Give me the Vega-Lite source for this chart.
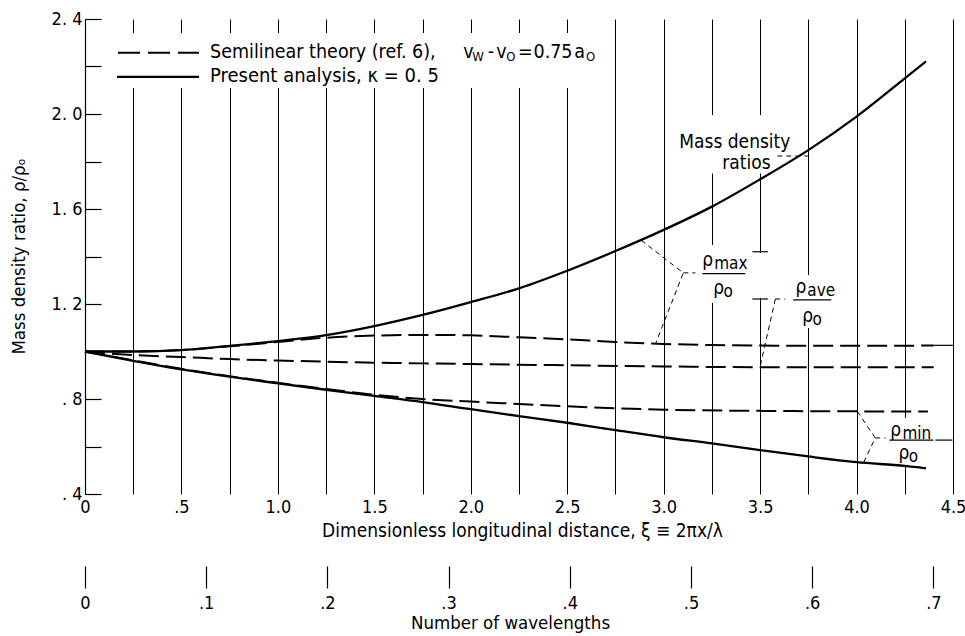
{
  "$schema": "https://vega.github.io/schema/vega-lite/v6.json",
  "width": 868,
  "height": 475,
  "autosize": "none",
  "padding": {"left": 85, "top": 19, "right": 12, "bottom": 142},
  "background": "white",
  "config": {
    "view": {"stroke": null},
    "font": "DejaVu Sans Condensed, DejaVu Sans",
    "axis": {"labelFont": "DejaVu Sans Condensed, DejaVu Sans", "titleFont": "DejaVu Sans Condensed, DejaVu Sans", "labelColor": "black", "titleColor": "black", "titleFontWeight": "normal", "labelFlush": false, "labelOverlap": false}
  },
  "datasets": {
    "solid": [
      {"curve": "max", "xi": 0, "r": 1.0}, {"curve": "max", "xi": 0.25, "r": 1.0}, {"curve": "max", "xi": 0.5, "r": 1.006}, {"curve": "max", "xi": 0.75, "r": 1.024}, {"curve": "max", "xi": 1.0, "r": 1.044}, {"curve": "max", "xi": 1.25, "r": 1.069}, {"curve": "max", "xi": 1.5, "r": 1.107}, {"curve": "max", "xi": 1.75, "r": 1.154}, {"curve": "max", "xi": 2.0, "r": 1.208}, {"curve": "max", "xi": 2.25, "r": 1.266}, {"curve": "max", "xi": 2.5, "r": 1.34}, {"curve": "max", "xi": 2.75, "r": 1.423}, {"curve": "max", "xi": 3.0, "r": 1.512}, {"curve": "max", "xi": 3.25, "r": 1.61}, {"curve": "max", "xi": 3.5, "r": 1.725}, {"curve": "max", "xi": 3.75, "r": 1.848}, {"curve": "max", "xi": 4.0, "r": 1.989}, {"curve": "max", "xi": 4.25, "r": 2.15}, {"curve": "max", "xi": 4.36, "r": 2.222},
      {"curve": "min", "xi": 0, "r": 1.0}, {"curve": "min", "xi": 0.25, "r": 0.961}, {"curve": "min", "xi": 0.5, "r": 0.925}, {"curve": "min", "xi": 0.75, "r": 0.894}, {"curve": "min", "xi": 1.0, "r": 0.866}, {"curve": "min", "xi": 1.25, "r": 0.839}, {"curve": "min", "xi": 1.5, "r": 0.813}, {"curve": "min", "xi": 1.75, "r": 0.787}, {"curve": "min", "xi": 2.0, "r": 0.757}, {"curve": "min", "xi": 2.25, "r": 0.728}, {"curve": "min", "xi": 2.5, "r": 0.7}, {"curve": "min", "xi": 2.75, "r": 0.669}, {"curve": "min", "xi": 3.0, "r": 0.639}, {"curve": "min", "xi": 3.25, "r": 0.613}, {"curve": "min", "xi": 3.5, "r": 0.585}, {"curve": "min", "xi": 3.75, "r": 0.558}, {"curve": "min", "xi": 4.0, "r": 0.534}, {"curve": "min", "xi": 4.25, "r": 0.518}, {"curve": "min", "xi": 4.36, "r": 0.508}
    ],
    "dashed": [
      {"curve": "max", "xi": 0, "r": 1.0}, {"curve": "max", "xi": 0.25, "r": 1.0}, {"curve": "max", "xi": 0.5, "r": 1.006}, {"curve": "max", "xi": 0.75, "r": 1.022}, {"curve": "max", "xi": 1.0, "r": 1.04}, {"curve": "max", "xi": 1.25, "r": 1.058}, {"curve": "max", "xi": 1.5, "r": 1.067}, {"curve": "max", "xi": 1.75, "r": 1.07}, {"curve": "max", "xi": 2.0, "r": 1.068}, {"curve": "max", "xi": 2.25, "r": 1.06}, {"curve": "max", "xi": 2.5, "r": 1.051}, {"curve": "max", "xi": 2.75, "r": 1.04}, {"curve": "max", "xi": 3.0, "r": 1.032}, {"curve": "max", "xi": 3.25, "r": 1.027}, {"curve": "max", "xi": 3.5, "r": 1.025}, {"curve": "max", "xi": 4.0, "r": 1.024}, {"curve": "max", "xi": 4.4, "r": 1.025},
      {"curve": "ave", "xi": 0, "r": 1.0}, {"curve": "ave", "xi": 0.25, "r": 0.985}, {"curve": "ave", "xi": 0.5, "r": 0.977}, {"curve": "ave", "xi": 0.75, "r": 0.968}, {"curve": "ave", "xi": 1.0, "r": 0.962}, {"curve": "ave", "xi": 1.25, "r": 0.957}, {"curve": "ave", "xi": 1.5, "r": 0.953}, {"curve": "ave", "xi": 1.75, "r": 0.95}, {"curve": "ave", "xi": 2.0, "r": 0.947}, {"curve": "ave", "xi": 2.5, "r": 0.942}, {"curve": "ave", "xi": 3.0, "r": 0.937}, {"curve": "ave", "xi": 3.5, "r": 0.934}, {"curve": "ave", "xi": 4.0, "r": 0.934}, {"curve": "ave", "xi": 4.4, "r": 0.934},
      {"curve": "min", "xi": 0, "r": 1.0}, {"curve": "min", "xi": 0.25, "r": 0.963}, {"curve": "min", "xi": 0.5, "r": 0.927}, {"curve": "min", "xi": 0.75, "r": 0.896}, {"curve": "min", "xi": 1.0, "r": 0.868}, {"curve": "min", "xi": 1.25, "r": 0.842}, {"curve": "min", "xi": 1.5, "r": 0.818}, {"curve": "min", "xi": 1.75, "r": 0.8}, {"curve": "min", "xi": 2.0, "r": 0.789}, {"curve": "min", "xi": 2.25, "r": 0.779}, {"curve": "min", "xi": 2.5, "r": 0.769}, {"curve": "min", "xi": 2.75, "r": 0.761}, {"curve": "min", "xi": 3.0, "r": 0.755}, {"curve": "min", "xi": 3.5, "r": 0.75}, {"curve": "min", "xi": 4.0, "r": 0.748}, {"curve": "min", "xi": 4.37, "r": 0.747}
    ],
    "blanks": [
      {"xi": 0.14, "xi2": 2.697, "r": 2.341, "r2": 2.109},
      {"xi": 3.06, "xi2": 3.66, "r": 1.996, "r2": 1.75},
      {"xi": 3.18, "xi2": 3.449, "r": 1.448, "r2": 1.204},
      {"xi": 3.47, "xi2": 3.53, "r": 1.415, "r2": 1.225},
      {"xi": 3.657, "xi2": 3.89, "r": 1.322, "r2": 1.099},
      {"xi": 4.155, "xi2": 4.409, "r": 0.72, "r2": 0.522}
    ],
    "leaders": [
      {"id": "mdr", "k": 0, "xi": 3.589, "r": 1.823}, {"id": "mdr", "k": 1, "xi": 3.76, "r": 1.823},
      {"id": "max", "k": 0, "xi": 2.884, "r": 1.468}, {"id": "max", "k": 1, "xi": 3.102, "r": 1.331}, {"id": "max", "k": 2, "xi": 2.96, "r": 1.037},
      {"id": "max_s", "k": 0, "xi": 3.102, "r": 1.331}, {"id": "max_s", "k": 1, "xi": 3.164, "r": 1.331},
      {"id": "ave", "k": 0, "xi": 3.579, "r": 1.221}, {"id": "ave", "k": 1, "xi": 3.501, "r": 0.94},
      {"id": "ave_s", "k": 0, "xi": 3.579, "r": 1.221}, {"id": "ave_s", "k": 1, "xi": 3.63, "r": 1.221},
      {"id": "min", "k": 0, "xi": 4.004, "r": 0.748}, {"id": "min", "k": 1, "xi": 4.097, "r": 0.636}, {"id": "min", "k": 2, "xi": 4.035, "r": 0.53},
      {"id": "min_s", "k": 0, "xi": 4.097, "r": 0.636}, {"id": "min_s", "k": 1, "xi": 4.15, "r": 0.636}
    ],
    "thin": [
      {"xi": 3.2, "xi2": 3.423, "r": 1.328},
      {"xi": 3.672, "xi2": 3.869, "r": 1.217},
      {"xi": 4.17, "xi2": 4.398, "r": 0.627},
      {"xi": 4.4, "xi2": 4.5, "r": 1.026},
      {"xi": 4.409, "xi2": 4.497, "r": 0.627},
      {"xi": 3.46, "xi2": 3.54, "r": 1.42},
      {"xi": 3.46, "xi2": 3.54, "r": 1.221}
    ],
    "legDashed": [{"xi": 0.171, "xi2": 0.591, "r": 2.258}],
    "legSolid": [{"xi": 0.166, "xi2": 0.591, "r": 2.156}],
    "legTexts": [
      {"text": "Semilinear theory  (ref.  6),", "xi": 0.648, "r": 2.259},
      {"text": "v", "xi": 1.961, "r": 2.259},
      {"text": "-", "xi": 2.088, "r": 2.259},
      {"text": "v", "xi": 2.132, "r": 2.259},
      {"text": "=", "xi": 2.245, "r": 2.259},
      {"text": "0.75", "xi": 2.325, "r": 2.259},
      {"text": "a", "xi": 2.537, "r": 2.259}
    ],
    "legTexts2": [
      {"text": "Present analysis,  κ = 0. 5", "xi": 0.648, "r": 2.16}
    ],
    "texts": [
      {"text": "Mass density", "xi": 3.081, "r": 1.882},
      {"text": "ratios", "xi": 3.304, "r": 1.794},
      {"text": "ρ", "xi": 3.2, "r": 1.385},
      {"text": "ρ", "xi": 3.257, "r": 1.267},
      {"text": "ρ", "xi": 3.683, "r": 1.272},
      {"text": "ρ", "xi": 3.719, "r": 1.149},
      {"text": "ρ", "xi": 4.175, "r": 0.669},
      {"text": "ρ", "xi": 4.217, "r": 0.573}
    ],
    "legSubs": [
      {"text": "W", "xi": 2.007, "r": 2.259},
      {"text": "O", "xi": 2.184, "r": 2.259},
      {"text": "O", "xi": 2.597, "r": 2.259}
    ],
    "fracSubs": [
      {"text": "max", "xi": 3.262, "r": 1.385},
      {"text": "o", "xi": 3.31, "r": 1.267},
      {"text": "ave", "xi": 3.745, "r": 1.272},
      {"text": "o", "xi": 3.772, "r": 1.149},
      {"text": "min", "xi": 4.238, "r": 0.669},
      {"text": "o", "xi": 4.27, "r": 0.573}
    ],
    "wl": [{"n": 0}, {"n": 0.716197}]
  },
  "layer": [
    {
      "encoding": {
        "x": {
          "field": "xi", "type": "quantitative",
          "scale": {"domain": [0, 4.5], "nice": false, "zero": false},
          "axis": {
            "values": [0, 0.25, 0.5, 0.75, 1, 1.25, 1.5, 1.75, 2, 2.25, 2.5, 2.75, 3, 3.25, 3.5, 3.75, 4, 4.25, 4.5],
            "grid": true, "gridColor": "black", "gridOpacity": 1, "gridWidth": 1,
            "domain": false, "ticks": false,
            "labelExpr": "datum.value % 0.5 == 0 ? (datum.value == 0 ? '0' : (datum.value < 1 ? '.5' : format(datum.value, '.1f'))) : ''",
            "labelFontSize": 18, "labelPadding": 4,
            "title": "Dimensionless longitudinal distance,  ξ ≡ 2πx/λ",
            "titleFontSize": 19, "titleX": 437, "titleY": 36, "titleAlign": "center", "titleBaseline": "middle"
          }
        },
        "y": {
          "field": "r", "type": "quantitative",
          "scale": {"domain": [0.4, 2.4], "nice": false, "zero": false},
          "axis": {
            "values": [0.4, 0.6, 0.8, 1, 1.2, 1.4, 1.6, 1.8, 2, 2.2, 2.4],
            "grid": false, "domain": true, "domainColor": "black", "domainWidth": 1.2,
            "ticks": true, "tickSize": -16, "tickColor": "black", "tickWidth": 1.2,
            "labelPadding": 19, "labelFontSize": 18,
            "labelExpr": "round(datum.value * 10) % 4 == 0 ? replace(replace(format(datum.value, '.1f'), '.', '. '), '0. ', '. ') : ''",
            "title": "Mass density ratio,  ρ/ρₒ",
            "titleFontSize": 18.5, "titleX": -67, "titleY": 237, "titleAngle": 270, "titleAlign": "center", "titleBaseline": "middle"
          }
        }
      },
      "layer": [
        {"data": {"name": "blanks"}, "mark": {"type": "rect", "fill": "white", "strokeWidth": 0}, "encoding": {"x2": {"field": "xi2"}, "y2": {"field": "r2"}}},
        {"data": {"name": "solid"}, "mark": {"type": "line", "color": "black", "strokeWidth": 2.3, "interpolate": "monotone"}, "encoding": {"detail": {"field": "curve"}}},
        {"data": {"name": "dashed"}, "mark": {"type": "line", "color": "black", "strokeWidth": 2, "strokeDash": [20, 7], "interpolate": "monotone"}, "encoding": {"detail": {"field": "curve"}}},
        {"data": {"name": "leaders"}, "mark": {"type": "line", "color": "black", "strokeWidth": 1, "strokeDash": [5, 4]}, "encoding": {"detail": {"field": "id"}, "order": {"field": "k", "type": "quantitative"}}},
        {"data": {"name": "thin"}, "mark": {"type": "rule", "color": "black", "strokeWidth": 1.2}, "encoding": {"x2": {"field": "xi2"}}},
        {"data": {"name": "legDashed"}, "mark": {"type": "rule", "color": "black", "strokeWidth": 2, "strokeDash": [22, 8]}, "encoding": {"x2": {"field": "xi2"}}},
        {"data": {"name": "legSolid"}, "mark": {"type": "rule", "color": "black", "strokeWidth": 2.2}, "encoding": {"x2": {"field": "xi2"}}},
        {"data": {"name": "legTexts"}, "mark": {"type": "text", "align": "left", "baseline": "middle", "fontSize": 19.5, "font": "DejaVu Sans Condensed, DejaVu Sans", "color": "black"}, "encoding": {"text": {"field": "text"}}},
        {"data": {"name": "legTexts2"}, "mark": {"type": "text", "align": "left", "baseline": "middle", "fontSize": 20, "font": "DejaVu Sans Condensed, DejaVu Sans", "color": "black"}, "encoding": {"text": {"field": "text"}}},
        {"data": {"name": "texts"}, "mark": {"type": "text", "align": "left", "baseline": "middle", "fontSize": 19, "font": "DejaVu Sans Condensed, DejaVu Sans", "color": "black"}, "encoding": {"text": {"field": "text"}}},
        {"data": {"name": "legSubs"}, "mark": {"type": "text", "align": "left", "baseline": "middle", "fontSize": 13, "dy": 5, "font": "DejaVu Sans Condensed, DejaVu Sans", "color": "black"}, "encoding": {"text": {"field": "text"}}},
        {"data": {"name": "fracSubs"}, "mark": {"type": "text", "align": "left", "baseline": "middle", "fontSize": 17, "dy": 4, "font": "DejaVu Sans Condensed, DejaVu Sans", "color": "black"}, "encoding": {"text": {"field": "text"}}}
      ]
    },
    {
      "data": {"name": "wl"},
      "mark": {"type": "point", "opacity": 0},
      "encoding": {
        "x": {
          "field": "n", "type": "quantitative",
          "scale": {"domain": [0, 0.716197], "nice": false, "zero": false},
          "axis": {
            "orient": "bottom", "offset": 94,
            "values": [0, 0.1, 0.2, 0.3, 0.4, 0.5, 0.6, 0.7],
            "domain": false, "grid": false,
            "ticks": true, "tickSize": -22, "tickColor": "black", "tickWidth": 1.2,
            "labelPadding": 28, "labelFontSize": 18,
            "labelExpr": "datum.value == 0 ? '0' : replace(format(datum.value, '.1f'), '0.', '.')",
            "title": "Number of wavelengths",
            "titleFontSize": 18.5, "titleX": 425, "titleY": 34, "titleAlign": "center", "titleBaseline": "middle"
          }
        }
      }
    }
  ],
  "resolve": {"scale": {"x": "independent"}}
}
